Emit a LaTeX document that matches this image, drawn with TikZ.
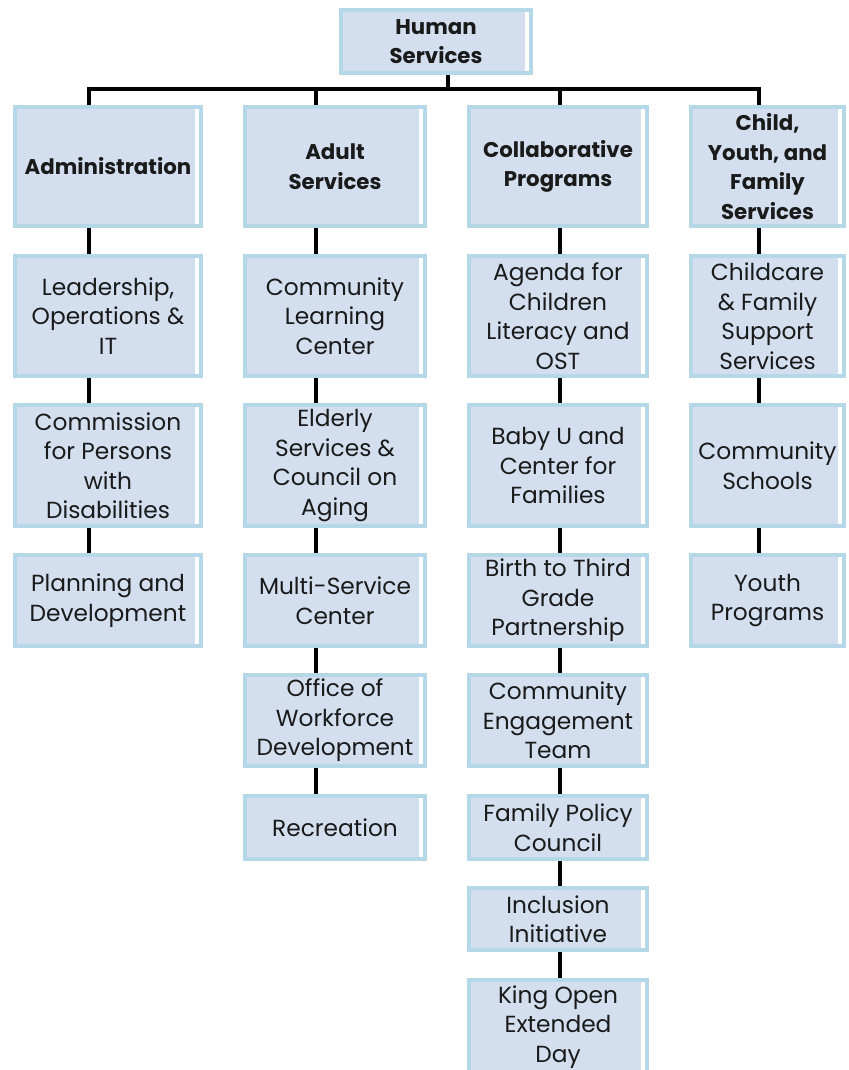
\documentclass[tikz,border=0pt]{standalone}
\usepackage{fontspec}
\setmainfont{Poppins}
\usetikzlibrary{backgrounds}
\definecolor{boxfill}{HTML}{D3DFEE}
\definecolor{boxline}{HTML}{B5D8E8}
\definecolor{txtc}{HTML}{1A1A1A}
\tikzset{
  orgbox/.style={draw=boxline, fill=boxfill, line width=4pt, inner sep=0pt,
    align=center, text=txtc, font=\fontsize{23.3}{29.5}\selectfont,
    path picture={\fill[white] ([xshift=-6pt,yshift=-2pt]path picture bounding box.north east)
      rectangle ([xshift=-2pt,yshift=2pt]path picture bounding box.south east);}},
  headbox/.style={orgbox, font=\fontsize{21.3}{29.5}\selectfont\bfseries},
  conn/.style={draw=black, line width=4pt}
}
\newcommand\orgnode[7][orgbox]{%
  \node[#1, minimum width={#5-#3-4}, minimum height={#6-#4-4}] (#2) at ({(#3+#5)/2},{(#4+#6)/2}) {#7};}
\begin{document}
\begin{tikzpicture}[x=1pt,y=-1pt]
\useasboundingbox (0,0) rectangle (848,1070);
\clip (0,0) rectangle (848,1070);
% top
\orgnode[headbox]{hs}{339}{8}{533}{75}{Human\\Services}
% level 1
\orgnode[headbox]{adm}{13}{105}{203}{228}{Administration}
\orgnode[headbox]{adult}{243}{105}{427}{228}{Adult\\Services}
\orgnode[headbox]{collab}{467}{105}{649}{228}{Collaborative\\Programs}
\orgnode[headbox]{cyf}{689}{105}{846}{228}{Child,\\Youth, and\\Family\\Services}
% column 1
\orgnode{lead}{13}{254}{203}{378}{Leadership,\\Operations \&\\IT}
\orgnode{comm}{13}{403}{203}{528}{Commission\\for Persons\\with\\Disabilities}
\orgnode{plan}{13}{553}{203}{648}{Planning and\\Development}
% column 2
\orgnode{clc}{243}{254}{427}{378}{Community\\Learning\\Center}
\orgnode{elder}{243}{403}{427}{528}{Elderly\\Services \&\\Council on\\Aging}
\orgnode{msc}{243}{553}{427}{648}{Multi-Service\\Center}
\orgnode{owd}{243}{673}{427}{768}{Office of\\Workforce\\Development}
\orgnode{rec}{243}{794}{427}{861}{Recreation}
% column 3
\orgnode{agenda}{467}{254}{649}{378}{Agenda for\\Children\\Literacy and\\OST}
\orgnode{babyu}{467}{403}{649}{528}{Baby U and\\Center for\\Families}
\orgnode{birth}{467}{553}{649}{648}{Birth to Third\\Grade\\Partnership}
\orgnode{ceng}{467}{673}{649}{768}{Community\\Engagement\\Team}
\orgnode{fpc}{467}{794}{649}{861}{Family Policy\\Council}
\orgnode{incl}{467}{886}{649}{952}{Inclusion\\Initiative}
\orgnode{king}{467}{978}{649}{1076}{King Open\\Extended\\Day}
% column 4
\orgnode{childcare}{689}{254}{846}{378}{Childcare\\\& Family\\Support\\Services}
\orgnode{cschools}{689}{403}{846}{528}{Community\\Schools}
\orgnode{youth}{689}{553}{846}{648}{Youth\\Programs}
% connector columns
\coordinate (x0) at (448,0);
\coordinate (x1) at (89,0);
\coordinate (x2) at (316,0);
\coordinate (x3) at (560,0);
\coordinate (x4) at (759,0);
\coordinate (bar) at (0,89);
\begin{scope}[on background layer]
\draw[conn] (hs.south -| x0) -- (bar -| x0);
\draw[conn, line cap=rect] (bar -| x1) -- (bar -| x4);
\draw[conn] (bar -| x1) -- (adm.north -| x1);
\draw[conn] (bar -| x2) -- (adult.north -| x2);
\draw[conn] (bar -| x3) -- (collab.north -| x3);
\draw[conn] (bar -| x4) -- (cyf.north -| x4);
\draw[conn] (adm.south -| x1) -- (lead.north -| x1);
\draw[conn] (lead.south -| x1) -- (comm.north -| x1);
\draw[conn] (comm.south -| x1) -- (plan.north -| x1);
\draw[conn] (adult.south -| x2) -- (clc.north -| x2);
\draw[conn] (clc.south -| x2) -- (elder.north -| x2);
\draw[conn] (elder.south -| x2) -- (msc.north -| x2);
\draw[conn] (msc.south -| x2) -- (owd.north -| x2);
\draw[conn] (owd.south -| x2) -- (rec.north -| x2);
\draw[conn] (collab.south -| x3) -- (agenda.north -| x3);
\draw[conn] (agenda.south -| x3) -- (babyu.north -| x3);
\draw[conn] (babyu.south -| x3) -- (birth.north -| x3);
\draw[conn] (birth.south -| x3) -- (ceng.north -| x3);
\draw[conn] (ceng.south -| x3) -- (fpc.north -| x3);
\draw[conn] (fpc.south -| x3) -- (incl.north -| x3);
\draw[conn] (incl.south -| x3) -- (king.north -| x3);
\draw[conn] (cyf.south -| x4) -- (childcare.north -| x4);
\draw[conn] (childcare.south -| x4) -- (cschools.north -| x4);
\draw[conn] (cschools.south -| x4) -- (youth.north -| x4);
\end{scope}
\end{tikzpicture}
\end{document}
